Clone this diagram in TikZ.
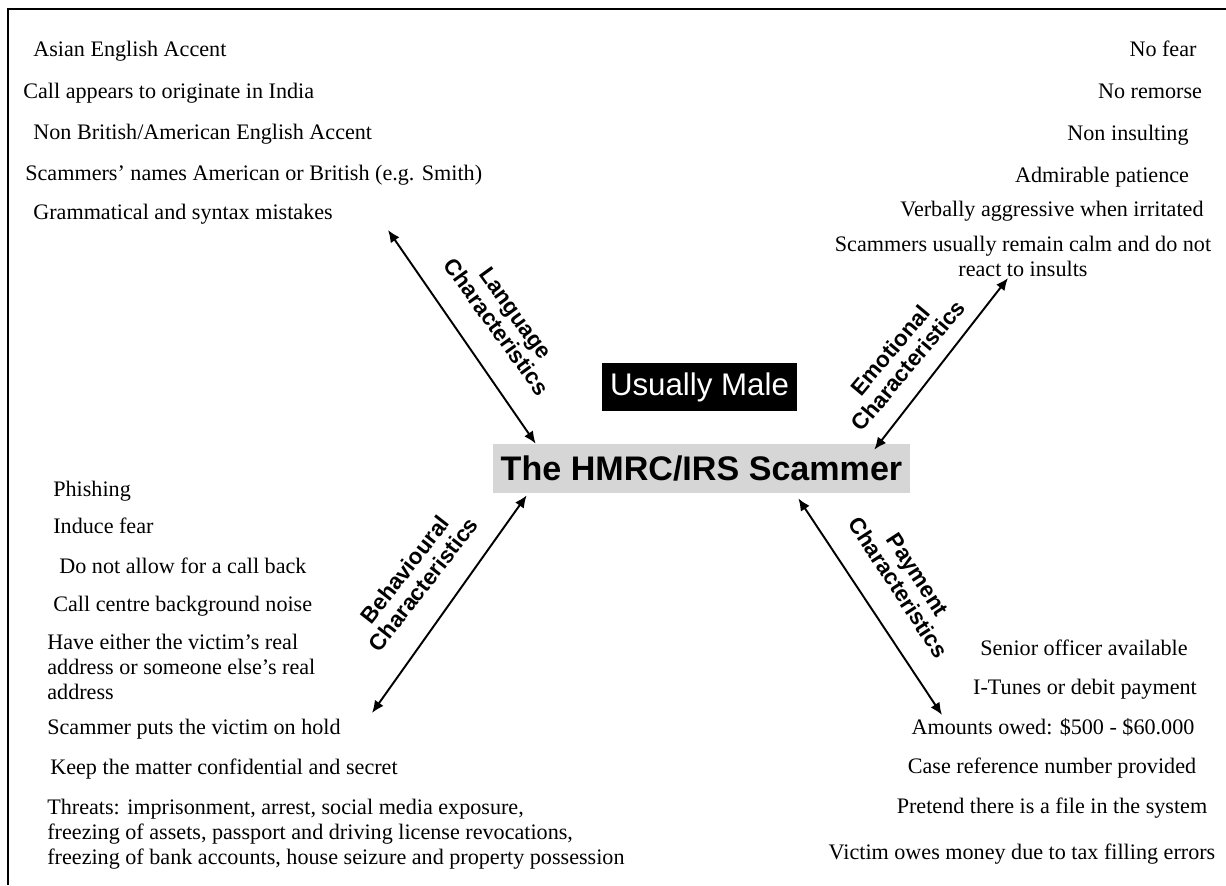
\documentclass[tikz,border=0pt]{standalone}
\usepackage{fontspec}
\setmainfont{Liberation Serif}
\newfontfamily\arialfont{Liberation Sans}
\usetikzlibrary{arrows.meta,calc}

\begin{document}
\begin{tikzpicture}[x=0.02cm,y=-0.02cm,
  item/.style={inner sep=0pt,font=\fontsize{12.6}{14.2}\selectfont},
  branch/.style={inner sep=0pt,align=center,font=\arialfont\bfseries\fontsize{12.8}{13.4}\selectfont},
  link/.style={{Latex[length=7pt,width=6pt]}-{Latex[length=7pt,width=6pt]},line width=1.1pt}]
\useasboundingbox (0,0) rectangle (1226,885);
\draw[line width=1.1pt] (8,885) -- (8,9) -- (1226,9);

% The scammer and the gender box
\node[fill=black!16,minimum width=8.34cm,minimum height=0.98cm,inner sep=0pt,
      font=\arialfont\bfseries\fontsize{19.4}{22}\selectfont] (scammer) at (701.5,468.5) {The HMRC/IRS Scammer};
\node[fill=black,text=white,minimum width=3.9cm,minimum height=0.96cm,inner sep=0pt,
      font=\arialfont\fontsize{17.8}{20}\selectfont] (male) at (699.5,387) {Usually Male};

% Language characteristics
\foreach \n/\x/\y/\t in {1/33/57/Asian English Accent,
                         2/23/99/Call appears to originate in India,
                         3/33/140/{Non British/American English Accent},
                         4/25/181/Scammers’ names American or British (e.g. Smith),
                         5/33/219/Grammatical and syntax mistakes}
  \node[item,anchor=base west] (lang\n) at (\x,\y) {\t};

% Emotional characteristics
\foreach \n/\x/\y/\t in {1/1163/57/No fear,
                         2/1150/99/No remorse,
                         3/1128/141/Non insulting,
                         4/1102/183/Admirable patience,
                         5/1052/216/Verbally aggressive when irritated}
  \node[item,anchor=base] (emo\n) at (\x,\y) {\t};
% (multi-line nodes sit on their last line)
\node[item,anchor=base,align=center] (emo6) at (1023,276) {Scammers usually remain calm and do not\\react to insults};

% Behavioural characteristics
\foreach \n/\x/\y/\t in {1/53/496/Phishing,
                         2/53/533/Induce fear,
                         3/59/573/Do not allow for a call back,
                         4/53/611/Call centre background noise,
                         6/47/734/Scammer puts the victim on hold,
                         7/50/774/Keep the matter confidential and secret}
  \node[item,anchor=base west] (beh\n) at (\x,\y) {\t};
\node[item,anchor=base west,align=left] (beh5) at (47,699) {Have either the victim’s real\\address or someone else’s real\\address};
\node[item,anchor=base west,align=left] (beh8) at (47,864) {Threats: imprisonment, arrest, social media exposure,\\freezing of assets, passport and driving license revocations,\\freezing of bank accounts, house seizure and property possession};

% Payment characteristics
\foreach \n/\x/\y/\t in {1/1084/655/Senior officer available,
                         2/1085/694/I-Tunes or debit payment,
                         3/1053/734/Amounts owed: \$500 - \$60.000,
                         4/1052/773/Case reference number provided,
                         5/1052/813/Pretend there is a file in the system,
                         6/1022/859/Victim owes money due to tax filling errors}
  \node[item,anchor=base] (pay\n) at (\x,\y) {\t};

% Branch labels
\node[branch,rotate=-54] (langlabel) at (506,320) {Language\\Characteristics};
\node[branch,rotate=50] (emolabel) at (899,358) {Emotional\\Characteristics};
\node[branch,rotate=52] (behlabel) at (414,577) {Behavioural\\Characteristics};
\node[branch,rotate=-57] (paylabel) at (908,581) {Payment\\Characteristics};

% Arrows
\coordinate (lang-end) at (388,230);
\coordinate (emo-end) at (1008,278);
\coordinate (beh-end) at (372,713);
\coordinate (pay-end) at (942,715);
\draw[link] (lang-end) -- ($(scammer.north west)+(43,0)$);
\draw[link] (emo-end) -- ($(scammer.north east)+(-36,6)$);
\draw[link] (beh-end) -- ($(scammer.south west)+(34,2)$);
\draw[link] (pay-end) -- ($(scammer.south east)+(-112,5)$);
\end{tikzpicture}
\end{document}
